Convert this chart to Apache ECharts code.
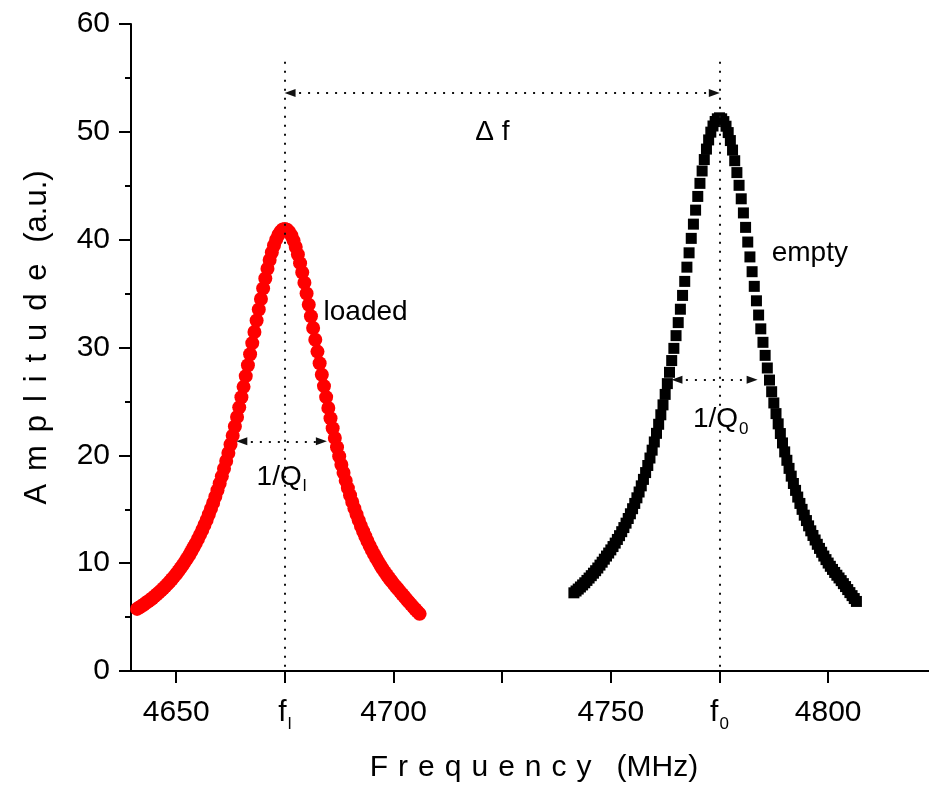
<!DOCTYPE html>
<html><head><meta charset="utf-8">
<script src="https://cdn.jsdelivr.net/npm/echarts@6/dist/echarts.min.js"></script>
<style>html,body{margin:0;padding:0;background:#fff}#c{width:929px;height:789px}</style>
</head><body><div id="c"></div>
<script>
// ---- data ----
const xTicks = [4650, 4675, 4700, 4725, 4750, 4775, 4800];
const xTickLabels = ['4650', '{f|f}{s|l}', '4700', '', '4750', '{f|f}{s|0}', '4800'];
const yTicks = [0, 10, 20, 30, 40, 50, 60];

const loadedFreq = [
4641,4641.5,4642,4642.5,4643,4643.5,4644,4644.5,4645,4645.5,
4646,4646.5,4647,4647.5,4648,4648.5,4649,4649.5,4650,4650.5,
4651,4651.5,4652,4652.5,4653,4653.5,4654,4654.5,4655,4655.5,
4656,4656.5,4657,4657.5,4658,4658.5,4659,4659.5,4660,4660.5,
4661,4661.5,4662,4662.5,4663,4663.5,4664,4664.5,4665,4665.5,
4666,4666.5,4667,4667.5,4668,4668.5,4669,4669.5,4670,4670.5,
4671,4671.5,4672,4672.5,4673,4673.5,4674,4674.5,4675,
4675.5,4676,4676.5,4677,4677.5,4678,4678.5,4679,4679.5,4680,
4680.5,4681,4681.5,4682,4682.5,4683,4683.5,4684,4684.5,4685,
4685.5,4686,4686.5,4687,4687.5,4688,4688.5,4689,4689.5,4690,
4690.5,4691,4691.5,4692,4692.5,4693,4693.5,4694,4694.5,4695,
4695.5,4696,4696.5,4697,4697.5,4698,4698.5,4699,4699.5,4700,
4700.5,4701,4701.5,4702,4702.5,4703,4703.5,4704,4704.5,4705,
4705.5,4706];
const loadedAmp = [
5.76,5.89,6.02,6.15,6.30,6.44,6.59,6.75,6.92,7.09,
7.27,7.45,7.65,7.85,8.06,8.28,8.51,8.75,9.00,9.26,
9.54,9.82,10.12,10.43,10.76,11.11,11.47,11.84,12.24,12.65,
13.08,13.54,14.01,14.51,15.04,15.59,16.16,16.76,17.39,18.05,
18.75,19.47,20.21,21.0,21.81,22.67,23.55,24.45,25.39,26.35,
27.35,28.36,29.37,30.41,31.44,32.50,33.52,34.50,35.48,36.40,
37.30,38.11,38.81,39.46,40.00,40.43,40.75,40.94,41.0,
40.93,40.72,40.38,39.91,39.32,38.62,37.82,36.95,36.01,35.01,
33.97,32.90,31.81,30.72,29.62,28.54,27.47,26.42,25.40,24.40,
23.44,22.51,21.61,20.75,19.92,19.13,18.38,17.65,16.96,16.30,
15.68,15.08,14.51,13.97,13.45,12.96,12.49,12.05,11.62,11.22,
10.84,10.47,10.12,9.79,9.47,9.17,8.88,8.60,8.34,8.08,
7.84,7.61,7.36,7.12,6.88,6.64,6.41,6.18,5.95,5.73,
5.51,5.30];

const emptyFreq = [
4741.5,4742,4742.5,4743,4743.5,4744,4744.5,4745,4745.5,4746,
4746.5,4747,4747.5,4748,4748.5,4749,4749.5,4750,4750.5,4751,
4751.5,4752,4752.5,4753,4753.5,4754,4754.5,4755,4755.5,4756,
4756.5,4757,4757.5,4758,4758.5,4759,4759.5,4760,4760.5,4761,
4761.5,4762,4762.5,4763,4763.5,4764,4764.5,4765,4765.5,4766,
4766.5,4767,4767.5,4768,4768.5,4769,4769.5,4770,4770.5,4771,
4771.5,4772,4772.5,4773,4773.5,4774,4774.5,4775,
4775.5,4776,4776.5,4777,4777.5,4778,4778.5,4779,4779.5,4780,
4780.5,4781,4781.5,4782,4782.5,4783,4783.5,4784,4784.5,4785,
4785.5,4786,4786.5,4787,4787.5,4788,4788.5,4789,4789.5,4790,
4790.5,4791,4791.5,4792,4792.5,4793,4793.5,4794,4794.5,4795,
4795.5,4796,4796.5,4797,4797.5,4798,4798.5,4799,4799.5,4800,
4800.5,4801,4801.5,4802,4802.5,4803,4803.5,4804,4804.5,4805,
4805.5,4806,4806.5];
const emptyAmp = [
7.25,7.42,7.60,7.79,7.98,8.18,8.40,8.62,8.84,9.07,
9.30,9.55,9.82,10.09,10.37,10.66,10.94,11.23,11.54,11.86,
12.20,12.55,12.92,13.30,13.71,14.14,14.58,15.05,15.54,16.06,
16.60,17.17,17.77,18.40,19.06,19.75,20.48,21.24,22.04,22.88,
23.76,24.68,25.65,26.65,27.70,28.79,29.92,31.10,32.31,33.55,
34.83,36.13,37.45,38.78,40.12,41.44,42.74,44.01,45.22,46.37,
47.43,48.40,49.25,49.97,50.54,50.96,51.21,51.3,
51.21,50.95,50.52,49.93,49.19,48.31,47.32,46.22,45.04,43.79,
42.48,41.14,39.78,38.40,37.03,35.67,34.33,33.01,31.73,30.48,
29.27,28.10,26.98,25.90,24.86,23.87,22.92,22.02,21.15,20.32,
19.54,18.79,18.07,17.39,16.75,16.13,15.54,14.99,14.45,13.95,
13.46,13.00,12.57,12.15,11.75,11.37,11.01,10.66,10.33,10.01,
9.71,9.42,9.14,8.88,8.63,8.38,8.10,7.83,7.55,7.27,
6.99,6.72,6.45];

// resonance frequencies and annotation geometry (data units)
const fLoaded = 4675, fEmpty = 4775;
const guideTop = 56.5;
const deltaArrow = {y: 53.6, x1: 4676.2, x2: 4773.8};
const qLoadedArrow = {y: 21.3, x1: 4665.1, x2: 4683.4};
const qEmptyArrow = {y: 27.0, x1: 4765.2, x2: 4782.5};
const annoText = ['{a|\u0394 f}', '{a|loaded}', '{a|empty}', '{a|1/Q}{s|l}', '{a|1/Q}{s|0}'];
const annoX = [4718.8, 4683.9, 4787.0, 4668.5, 4768.9];
const annoY = [51.3, 34.6, 40.0, 19.3, 24.6];
const S = '\u2004';
const SY = '\u2005\u2006';
const xName = ['F','r','e','q','u','e','n','c','y'].join(S) + '\u2002' + S + '(MHz)';
const yName = ['A','m','p','l','i','t','u','d','e'].join(SY) + S + S + '(a.u.)';

// ---- chart ----
const FONT = '"Liberation Sans", Arial, Helvetica, sans-serif';
const zip = (xs, ys) => xs.map((x, i) => [x, ys[i]]);
const chart = echarts.init(document.getElementById('c'), null, {renderer: 'canvas'});
const dotted = {color: '#111', width: 2, type: [2, 7]};
const richAnno = {
  a: {fontSize: 28, lineHeight: 28, verticalAlign: 'top', color: '#000', opacity: 1, fontFamily: FONT},
  s: {fontSize: 17, lineHeight: 17, padding: [19, 0, 0, 1], color: '#000', opacity: 1, fontFamily: FONT}
};

const option = {
  animation: false,
  backgroundColor: '#fff',
  grid: {left: 131, right: 0, top: 24, bottom: 118},
  xAxis: {
    type: 'value', min: 4639.6, max: 4823.2,
    axisLine: {show: true, onZero: false, lineStyle: {color: '#000', width: 2}},
    axisTick: {show: true, length: 12, customValues: xTicks, lineStyle: {color: '#000', width: 2}},
    axisLabel: {
      customValues: xTicks, margin: 27, fontSize: 30, color: '#000', fontFamily: FONT,
      formatter: v => { const i = xTicks.indexOf(v); return i >= 0 ? xTickLabels[i] : ''; },
      rich: {
        f: {fontSize: 30, lineHeight: 30, verticalAlign: 'top', color: '#000', fontFamily: FONT},
        s: {fontSize: 17, lineHeight: 17, padding: [22, 0, 0, 1], color: '#000', fontFamily: FONT}
      }
    },
    splitLine: {show: false},
    name: xName, nameLocation: 'middle', nameGap: 82,
    nameTextStyle: {fontSize: 30, color: '#000', fontFamily: FONT, padding: [0, 0, 0, 8]}
  },
  yAxis: {
    type: 'value', min: 0, max: 60, interval: 10,
    axisLine: {show: true, lineStyle: {color: '#000', width: 2}},
    axisTick: {show: true, length: 12, lineStyle: {color: '#000', width: 2}},
    minorTick: {show: true, splitNumber: 2, length: 6, lineStyle: {color: '#000', width: 2}},
    axisLabel: {margin: 21, fontSize: 30, color: '#000', fontFamily: FONT,
      formatter: v => yTicks.includes(v) ? String(v) : ''},
    splitLine: {show: false}, minorSplitLine: {show: false},
    name: yName, nameLocation: 'middle', nameGap: 78, nameRotate: 90,
    nameTextStyle: {fontSize: 31, color: '#000', fontFamily: FONT, padding: [0, 0, 0, 20]}
  },
  series: [
    {
      type: 'scatter', name: 'loaded', data: zip(loadedFreq, loadedAmp),
      symbol: 'circle', symbolSize: 14, itemStyle: {color: '#ff0000', opacity: 1}, z: 2, silent: true
    },
    {
      type: 'scatter', name: 'empty', data: zip(emptyFreq, emptyAmp),
      symbol: 'rect', symbolSize: 11, itemStyle: {color: '#000', opacity: 1}, z: 2, silent: true
    },
    {
      type: 'scatter', name: 'annotations', z: 5, silent: true,
      symbolSize: 0, itemStyle: {color: '#000', opacity: 1},
      data: annoText.map((t, i) => ({
        value: [annoX[i], annoY[i]],
        label: {show: true, position: 'inside', formatter: t, align: 'left', verticalAlign: 'top',
          color: '#000', opacity: 1, textBorderWidth: 0, rich: richAnno}
      })),
      markLine: {
        silent: true, animation: false,
        symbol: ['triangle', 'triangle'], symbolSize: [8, 11],
        label: {show: false},
        lineStyle: dotted,
        emphasis: {disabled: true},
        data: [
          [{coord: [fLoaded, guideTop], symbol: 'none'}, {coord: [fLoaded, 0], symbol: 'none'}],
          [{coord: [fEmpty, guideTop], symbol: 'none'}, {coord: [fEmpty, 0], symbol: 'none'}],
          [{coord: [deltaArrow.x1, deltaArrow.y]}, {coord: [deltaArrow.x2, deltaArrow.y]}],
          [{coord: [qLoadedArrow.x1, qLoadedArrow.y]}, {coord: [qLoadedArrow.x2, qLoadedArrow.y]}],
          [{coord: [qEmptyArrow.x1, qEmptyArrow.y]}, {coord: [qEmptyArrow.x2, qEmptyArrow.y]}]
        ]
      }
    }
  ]
};
chart.setOption(option);
</script>
</body></html>
